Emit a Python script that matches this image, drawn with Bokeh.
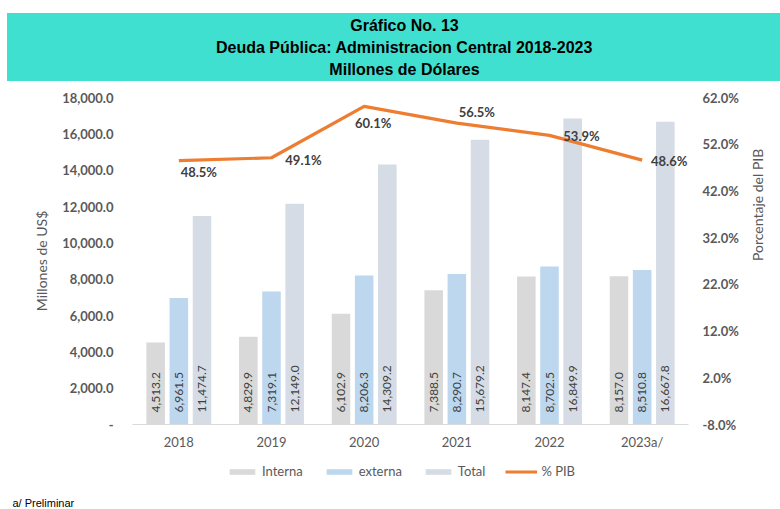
from bokeh.plotting import figure
from bokeh.models import (ColumnDataSource, FactorRange, Range1d, LinearAxis, FixedTicker,
                          NumeralTickFormatter, PrintfTickFormatter, LabelSet, Legend, LegendItem,
                          Title)
from bokeh.layouts import column
from bokeh.core.properties import value
from bokeh.transform import dodge
from bokeh.embed import file_html
from bokeh.resources import INLINE
import math

# ---- data ----
years = ["2018", "2019", "2020", "2021", "2022", "2023a/"]
interna = [4513.2, 4829.9, 6102.9, 7388.5, 8147.4, 8157.0]
externa = [6961.5, 7319.1, 8206.3, 8290.7, 8702.5, 8510.8]
total = [11474.7, 12149.0, 14309.2, 15679.2, 16849.9, 16667.8]
pib = [48.5, 49.1, 60.1, 56.5, 53.9, 48.6]
left_ticks = [0, 2000, 4000, 6000, 8000, 10000, 12000, 14000, 16000, 18000]
right_ticks = [-8, 2, 12, 22, 32, 42, 52, 62]
title_lines = ["Gráfico No. 13", "Deuda Pública: Administracion Central 2018-2023", "Millones de Dólares"]
footnote = "a/ Preliminar"

# label placement (pixels) for the % PIB labels
pib_label_dx = [20, 32, 9, 20, 32, 27]
pib_label_dy = [-11, -2, -17, 11, -1, -1]

C_INT = "#D9D9D9"
C_EXT = "#BDD7EE"
C_TOT = "#D6DCE5"
C_LINE = "#ED7D31"
C_BAND = "#40E0D0"
TXT = "#595959"
FONT = "Lato"

W = 780
BL, BR = 132, 92
FW = W - BL - BR


def bare(fig):
    fig.outline_line_color = None
    fig.grid.visible = False
    return fig


# ---------------- header band ----------------
HW, HH, HM = 773, 68, 7
HFW = HW - BL - BR
hdr = bare(figure(width=HW, height=HH, x_range=Range1d(0, HFW), y_range=Range1d(0, HH),
                  x_axis_type=None, y_axis_type=None, output_backend="svg", toolbar_location=None,
                  min_border_left=BL, min_border_right=BR, min_border_top=0, min_border_bottom=0,
                  margin=(13, 0, 0, HM)))
hdr.background_fill_color = C_BAND
hdr.border_fill_color = C_BAND
hdr.styles = {"background-color": C_BAND}
hsrc = ColumnDataSource(dict(x=[404 - BL - HM] * len(title_lines),
                             y=[56 - 22 * i for i in range(len(title_lines))], t=title_lines))
hdr.text(x="x", y="y", text="t", source=hsrc, text_align="center", text_baseline="middle",
         text_font=value("Liberation Sans"), text_font_style="bold", text_font_size="16px",
         text_color="black")

# ---------------- main chart ----------------
H = 371
BT, BB = 16, 28

fmt = lambda v: f"{v:,.1f}"
src = ColumnDataSource(dict(
    year=years, interna=interna, externa=externa, total=total, pib=pib,
    interna_t=[fmt(v) for v in interna], externa_t=[fmt(v) for v in externa],
    total_t=[fmt(v) for v in total], pib_t=[f"{v:.1f}%" for v in pib],
    base=[0] * len(years), dx=pib_label_dx, dy=pib_label_dy,
))

p = bare(figure(width=W, height=H, x_range=FactorRange(factors=years, range_padding=0),
                y_range=Range1d(0, 18000), output_backend="svg", toolbar_location=None,
                min_border_left=BL, min_border_right=BR, min_border_top=BT, min_border_bottom=BB,
                margin=(0, 0, 0, 0)))
p.extra_y_ranges = {"pib": Range1d(-8, 62)}
p.background_fill_color = "white"
p.border_fill_color = "white"

w = 0.2
off = 0.25
r_int = p.vbar(x=dodge("year", -off, range=p.x_range), top="interna", width=w, source=src,
               fill_color=C_INT, line_color=None)
r_ext = p.vbar(x=dodge("year", 0, range=p.x_range), top="externa", width=w, source=src,
               fill_color=C_EXT, line_color=None)
r_tot = p.vbar(x=dodge("year", off, range=p.x_range), top="total", width=w, source=src,
               fill_color=C_TOT, line_color=None)
r_line = p.line(x="year", y="pib", y_range_name="pib", source=src, line_color=C_LINE,
                line_width=3.2)

for col, o in (("interna_t", -off), ("externa_t", 0), ("total_t", off)):
    p.add_layout(LabelSet(x=dodge("year", o, range=p.x_range), y="base", text=col, source=src,
                          angle=math.pi / 2, text_align="left", text_baseline="middle",
                          y_offset=12, text_font=value(FONT), text_font_size="12px",
                          text_color="#404040"))

p.add_layout(LabelSet(x="year", y="pib", y_range_name="pib", text="pib_t", source=src,
                      x_offset="dx", y_offset="dy", text_align="center", text_baseline="middle",
                      text_font=value(FONT), text_font_size="13px", text_font_style="bold",
                      text_color="#404040"))

ya = p.yaxis[0]
ya.ticker = FixedTicker(ticks=left_ticks)
ya.formatter = NumeralTickFormatter(format="0,0.0")
ya.major_label_overrides = {0: "-"}
ya.axis_label = "Millones de US$"

ra = LinearAxis(y_range_name="pib", ticker=FixedTicker(ticks=right_ticks),
                formatter=PrintfTickFormatter(format="%.1f%%"),
                axis_label="Porcentaje del PIB")
p.add_layout(ra, "right")

for ax in (ya, ra):
    ax.axis_line_color = None
    ax.major_tick_line_color = None
    ax.minor_tick_line_color = None
    ax.major_label_text_font = FONT
    ax.major_label_text_font_size = "13px"
    ax.major_label_text_font_style = "bold"
    ax.major_label_text_color = TXT
    ax.axis_label_text_font = FONT
    ax.axis_label_text_font_size = "14px"
    ax.axis_label_text_font_style = "normal"
    ax.axis_label_text_color = TXT
ya.major_label_standoff = 13
ya.axis_label_standoff = 9
ra.major_label_standoff = 8
ra.axis_label_standoff = 16
ra.axis_label_orientation = math.pi / 2

xa = p.xaxis[0]
xa.axis_line_color = "#D9D9D9"
xa.major_tick_line_color = None
xa.minor_tick_line_color = None
xa.major_label_text_font = FONT
xa.major_label_text_font_size = "13px"
xa.major_label_text_color = TXT
xa.major_label_standoff = 3

# ---------------- legend strip + footnote ----------------
LH = 509 - 13 - HH - H
lf = bare(figure(width=W, height=LH, x_range=Range1d(0, 1), y_range=Range1d(0, 1),
                 x_axis_type=None, y_axis_type=None, output_backend="svg", toolbar_location=None,
                 min_border_left=BL, min_border_right=BR, min_border_top=0, min_border_bottom=0,
                 margin=(0, 0, 0, 0)))
lf.background_fill_color = "white"
lf.border_fill_color = "white"
# legend entries: same styles as the chart renderers
l_int = lf.vbar(x=[0], top=[0], width=0, fill_color=C_INT, line_color=None)
l_ext = lf.vbar(x=[0], top=[0], width=0, fill_color=C_EXT, line_color=None)
l_tot = lf.vbar(x=[0], top=[0], width=0, fill_color=C_TOT, line_color=None)
l_line = lf.line(x=[0, 0], y=[0, 0], line_color=C_LINE, line_width=3.2)

legend = Legend(items=[
    LegendItem(label="Interna", renderers=[l_int]),
    LegendItem(label="externa", renderers=[l_ext]),
    LegendItem(label="Total", renderers=[l_tot]),
    LegendItem(label="% PIB", renderers=[l_line]),
], orientation="horizontal", location=(94, 12), border_line_color=None,
   background_fill_alpha=0, glyph_width=32, glyph_height=7, label_height=20,
   label_standoff=4, spacing=20,
   label_text_font=FONT, label_text_font_size="13px", label_text_color=TXT,
   margin=0, padding=0)
lf.add_layout(legend)
lf.add_layout(Title(text=footnote, align="left", offset=-120, standoff=2,
                    text_font="Liberation Sans", text_font_style="normal", text_font_size="11px",
                    text_color="black"), "below")

layout = column(hdr, p, lf, spacing=0)
open("out.html", "w").write(file_html(layout, INLINE))
